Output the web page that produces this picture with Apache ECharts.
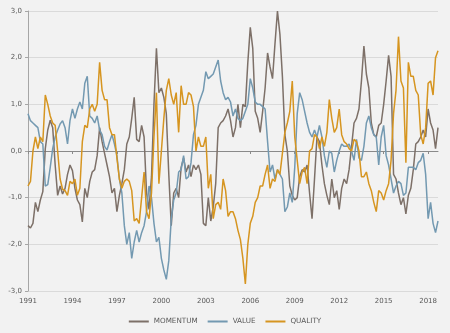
<!DOCTYPE html>
<html>
<head>
<meta charset="utf-8">
<script src="https://cdn.jsdelivr.net/npm/echarts@6/dist/echarts.min.js"></script>
<style>
html,body{margin:0;padding:0;background:#f2f2f2;}
#chart{width:450px;height:333px;}
</style>
</head>
<body>
<div id="chart"></div>
<script>
// Bimonthly observations, Jan 1991 .. Sep 2018 (month offset from Jan 1991)
var startYear = 1991;
var stepMonths = 2;
var yearTicks = [1991, 1994, 1997, 2000, 2003, 2006, 2009, 2012, 2015, 2018];
var yTicks = [-3, -2, -1, 0, 1, 2, 3];
var seriesNames = ['MOMENTUM', 'VALUE', 'QUALITY'];

var momentum = [
  -1.6, -1.65, -1.55, -1.1, -1.3, -1.05,
  -0.87, 0.05, 0.45, 0.66, 0.5, -0.3,
  -0.95, -0.75, -0.92, -0.8, -0.5, -0.3,
  -0.42, -0.8, -1.05, -1.15, -1.52, -0.8,
  -1.0, -0.65, -0.45, -0.4, -0.1, 0.5,
  0.2, -0.05, -0.3, -0.55, -0.9, -0.8,
  -1.3, -0.95, -0.7, -0.4, 0.15, 0.3,
  0.7, 1.15, 0.25, 0.2, 0.55, 0.3,
  -0.9, -1.25, -0.55, 1.0, 2.2, 1.25,
  1.35, 1.15, 0.8, -0.5, -1.6, -0.9,
  -0.8, -1.0, -0.35, -0.15, -0.45, -0.3,
  -0.55, -0.3, -0.4, -0.3, -0.5, -1.55,
  -1.6, -1.0, -1.5, -1.2, -0.7, 0.5,
  0.6, 0.65, 0.75, 0.9, 0.65, 0.3,
  0.5, 1.0, 0.5, 1.0, 0.95, 1.9,
  2.65, 2.2, 0.85, 0.7, 0.4, 0.85,
  1.35, 2.1, 1.8, 1.55, 2.3, 3.0,
  2.5, 1.6, 0.35, 0.0, -0.75, -0.95,
  -1.05, -1.0, -0.55, -0.4, -0.45, -0.3,
  -0.9, -1.45, -0.6, 0.3, 0.2, -0.3,
  -0.7, -0.95, -1.15, -0.6, -1.0, -0.85,
  -1.25, -0.8, -0.6, -0.7, -0.4, 0.1,
  0.6, 0.7, 0.9, 1.5, 2.25, 1.65,
  1.35, 0.6, 0.35, 0.3, 0.55, 0.6,
  1.0, 1.5, 2.05, 1.6, -0.5, -0.6,
  -0.9, -1.15, -1.0, -1.35, -0.95, -0.8,
  -0.4, 0.15, 0.2, 0.3, 0.45, 0.3,
  0.9, 0.6, 0.45, 0.05, 0.5
];

var value = [
  0.8, 0.65, 0.6, 0.55, 0.5, 0.2,
  0.15, -0.75, -0.72, -0.35, 0.05, 0.3,
  0.45, 0.58, 0.65, 0.5, 0.15, 0.65,
  0.9, 0.7, 0.9, 1.05, 0.9, 1.45,
  1.6, 0.75, 0.7, 0.6, 0.75, 0.45,
  0.35, 0.1, 0.02, 0.2, 0.35, 0.15,
  -0.1, -0.6, -0.9, -1.6, -2.0, -1.75,
  -2.3, -1.95, -1.7, -1.95, -1.75, -1.6,
  -1.3, -0.75, -1.0, -1.55, -1.95, -1.85,
  -2.3, -2.55, -2.75, -2.35, -1.45, -1.05,
  -0.9, -0.45, -0.4, -0.1, -0.6, -0.55,
  -0.25, 0.35, 0.55, 1.0, 1.15, 1.3,
  1.7, 1.55, 1.6, 1.65, 1.8, 1.95,
  1.5, 1.25, 1.1, 1.15, 1.05, 0.75,
  0.9, 0.7, 0.65, 0.7, 0.85, 1.0,
  1.55, 1.35, 1.05, 1.0, 1.0, 0.95,
  0.9, 0.2, -0.45, -0.3, -0.6, -0.4,
  -0.5, -0.6, -1.3, -1.2, -0.9, -1.1,
  -0.35, 0.8, 1.25, 1.1, 0.85, 0.6,
  0.4, 0.3, 0.45, 0.3, 0.55, 0.3,
  -0.1, -0.35, 0.0, -0.05, -0.45, -0.2,
  0.0, 0.15, 0.1, 0.1, 0.15, 0.0,
  -0.2, 0.25, -0.15, -0.2, 0.1, 0.6,
  0.75, 0.5, 0.35, 0.3, -0.3, 0.3,
  0.55, -0.1, -0.3, -0.6, -0.9, -0.75,
  -0.65, -0.7, -0.95, -0.9, -0.35, -0.35,
  -0.35, -0.4, -0.25, -0.2, -0.05, -0.5,
  -1.45, -1.1, -1.55, -1.75, -1.5
];

var quality = [
  -0.75, -0.65, 0.0, 0.3, 0.05, 0.3,
  0.2, 1.2, 1.0, 0.75, 0.6, 0.55,
  0.0, -0.6, -0.82, -0.85, -0.95, -0.65,
  -0.7, -0.6, -0.95, -0.8, 0.2, 0.55,
  0.5, 0.9, 1.0, 0.85, 1.0, 1.9,
  1.3, 1.1, 1.1, 0.5, 0.35, 0.35,
  -0.15, -0.6, -0.8, -0.65, -0.6, -0.65,
  -0.85, -1.5, -1.45, -1.55, -1.0, -0.45,
  -1.3, -1.45, -0.9, 0.3, 1.25, -0.7,
  0.0, 0.7, 1.3, 1.55, 1.2, 1.0,
  1.25, 0.4, 1.4, 1.0, 1.0, 1.25,
  1.2, 0.95, 0.0, 0.3, 0.1, 0.1,
  0.3, -0.8, -0.5, -1.45, -1.15, -1.1,
  -1.25, -0.6, -0.85, -1.4, -1.3, -1.3,
  -1.45, -1.7, -1.9, -2.3, -2.85, -2.0,
  -1.55, -1.4, -1.1, -1.0, -0.75, -0.75,
  -0.5, -0.3, -0.8, -0.6, -0.65, -0.4,
  -0.5, -0.05, 0.4, 0.6, 0.85, 1.5,
  0.3, -0.2, -0.7, -0.45, -0.35, -0.7,
  0.0, 0.05, 0.35, 0.3, 0.05, 0.3,
  0.1, 0.4, 1.1, 0.7, 0.4, 0.5,
  0.9, 0.35, 0.2, 0.15, 0.05, 0.0,
  0.25, 0.2, 0.0, -0.55, -0.55, -0.45,
  -0.7, -0.85, -1.1, -1.3, -0.85, -0.9,
  -1.05, -0.85, -0.7, -0.2, 0.8, 1.3,
  2.45, 1.5, 1.35, -0.25, 1.9, 1.6,
  1.6, 1.3, 1.2, 0.35, 0.15, 0.5,
  1.45, 1.5, 1.2, 2.0, 2.15
];

var colors = ['#7d7068', '#7399b1', '#d69520'];

function toPairs(arr) {
  return arr.map(function (v, i) { return [i * stepMonths, v]; });
}
var lastMonth = (momentum.length - 1) * stepMonths;
var tickMonths = yearTicks.map(function (y) { return (y - startYear) * 12; });

var chart = echarts.init(document.getElementById('chart'), null, {renderer: 'canvas'});
var font = 'DejaVu Sans';
chart.setOption({
  animation: false,
  backgroundColor: '#f2f2f2',
  color: colors,
  grid: {left: 28, right: 12, top: 11, bottom: 42, containLabel: false},
  legend: {
    data: seriesNames,
    top: 313,
    left: 'center',
    icon: 'rect',
    itemWidth: 20,
    itemHeight: 2,
    itemGap: 10,
    textStyle: {fontFamily: font, fontSize: 7.2, color: '#595959'}
  },
  xAxis: [{
    type: 'value',
    position: 'bottom',
    min: 0,
    max: lastMonth,
    interval: 36,
    axisLine: {show: false, onZero: false},
    axisTick: {show: false},
    splitLine: {show: false},
    axisLabel: {
      fontFamily: font, fontSize: 7, color: '#595959', margin: 7,
      customValues: tickMonths,
      formatter: function (v) { return v % 12 === 0 ? String(startYear + v / 12) : ''; }
    }
  }, {
    type: 'value',
    position: 'top',
    min: 0,
    max: lastMonth,
    interval: 36,
    axisLine: {show: true, onZero: true, lineStyle: {color: '#8a8a8a', width: 1}},
    axisTick: {show: true, inside: true, length: 3, customValues: tickMonths, lineStyle: {color: '#8a8a8a'}},
    axisLabel: {show: false},
    splitLine: {show: false}
  }],
  yAxis: {
    type: 'value',
    min: -3,
    max: 3,
    interval: 1,
    axisLine: {show: true, lineStyle: {color: '#a6a6a6', width: 1}},
    axisTick: {show: true, length: 3, lineStyle: {color: '#a6a6a6'}},
    splitLine: {show: true, lineStyle: {color: '#dadada', width: 1}},
    axisLabel: {
      fontFamily: font, fontSize: 7, color: '#595959', margin: 6,
      formatter: function (v) { return v.toFixed(1).replace('.', ','); }
    }
  },
  series: [
    {name: seriesNames[0], type: 'line', xAxisIndex: 0, data: toPairs(momentum), showSymbol: false, symbol: 'none', lineStyle: {width: 1.5, color: colors[0]}},
    {name: seriesNames[1], type: 'line', xAxisIndex: 0, data: toPairs(value), showSymbol: false, symbol: 'none', lineStyle: {width: 1.5, color: colors[1]}},
    {name: seriesNames[2], type: 'line', xAxisIndex: 0, data: toPairs(quality), showSymbol: false, symbol: 'none', lineStyle: {width: 1.5, color: colors[2]}}
  ]
});
</script>
</body>
</html>
